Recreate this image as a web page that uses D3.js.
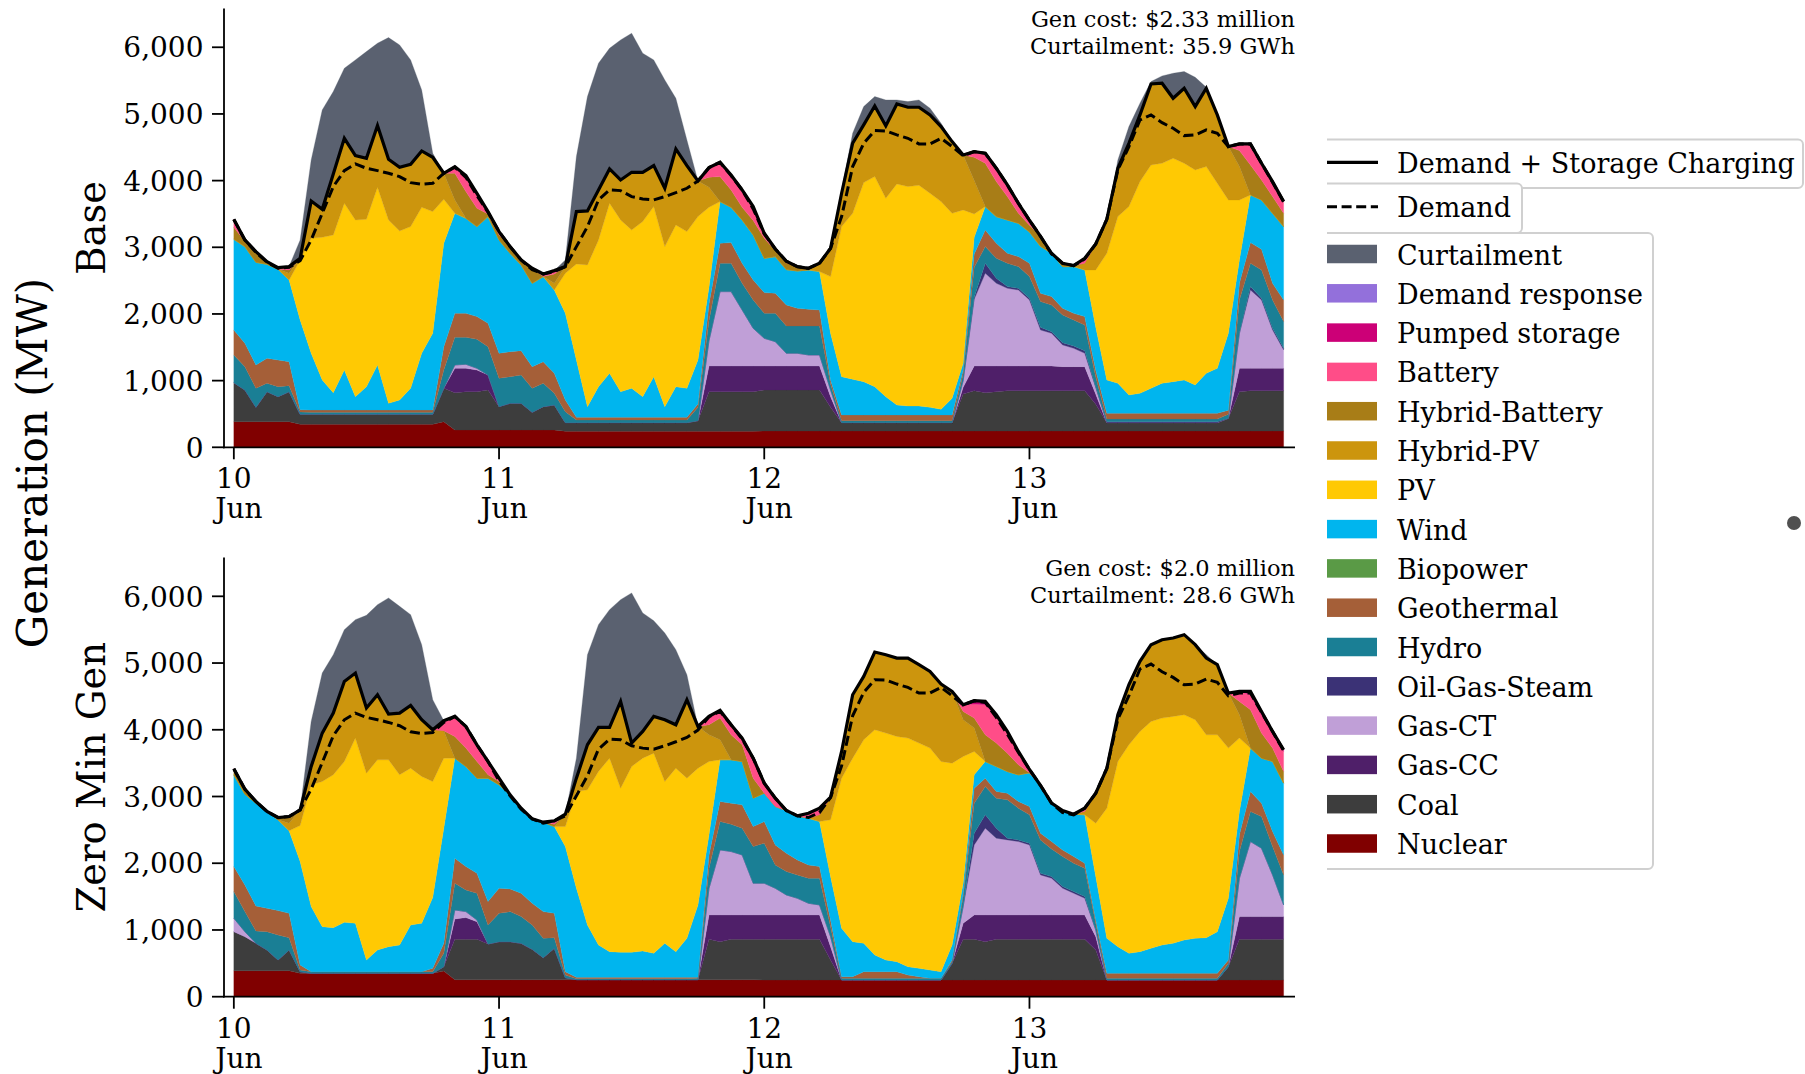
<!DOCTYPE html>
<html>
<head>
<meta charset="utf-8">
<script src="https://cdn.jsdelivr.net/npm/d3@7"></script>
<style>
  body { margin: 0; background: #fff; }
  svg { display: block; }
  text { font-family: "DejaVu Serif", serif; fill: #000; }
</style>
</head>
<body>
<svg id="chart" width="1805" height="1074"></svg>
<script>
// Hourly dispatch, 10 Jun 00:00 to 13 Jun 23:00 (MW)

// ---------- Scenario: Base ----------
const baseNuclear = [385,385,385,385,385,385,345,345,345,345,345,345,345,345,345,345,345,345,345,385,260,260,260,260,260,260,260,260,260,260,240,240,240,240,240,240,240,240,240,240,240,240,240,240,240,240,240,240,245,245,245,245,245,245,245,245,245,245,245,245,245,245,245,245,245,245,245,245,245,245,245,245,245,245,245,245,245,245,245,245,245,245,245,245,245,245,245,245,245,245,245,245,245,245,245,245];
const baseCoal = [585,475,215,450,375,450,150,150,150,150,150,150,150,150,150,150,150,150,150,500,560,575,575,600,350,400,400,265,350,375,130,130,130,130,130,130,130,130,130,130,130,130,160,595,595,595,595,595,615,615,615,615,615,615,355,125,125,125,125,125,125,125,125,125,125,125,555,605,575,590,605,605,605,605,605,605,605,605,400,125,125,125,125,125,125,125,125,125,125,125,190,590,605,605,605,605];
const baseGasCC = [0,0,0,0,0,0,0,0,0,0,0,0,0,0,0,0,0,0,0,0,365,350,325,225,0,0,0,0,0,0,0,0,0,0,0,0,0,0,0,0,0,0,0,385,385,385,385,385,360,360,360,360,360,360,160,0,0,0,0,0,0,0,0,0,0,0,100,370,400,385,370,370,370,370,370,360,360,360,150,0,0,0,0,0,0,0,0,0,0,0,0,350,335,335,335,335];
const baseGasCT = [0,0,0,0,0,0,0,0,0,0,0,0,0,0,0,0,0,0,0,0,50,60,25,0,0,0,0,0,0,0,0,0,0,0,0,0,0,0,0,0,0,0,0,380,1115,1115,840,565,415,365,190,190,165,165,100,0,0,0,0,0,0,0,0,0,0,0,100,1000,1390,1240,1165,1140,990,540,490,325,275,200,100,0,0,0,0,0,0,0,0,0,0,0,0,525,1175,1025,575,275];
const baseOilGasSteam = [0,0,0,0,0,0,0,0,0,0,0,0,0,0,0,0,0,0,0,0,0,0,0,0,0,0,0,0,0,0,0,0,0,0,0,0,0,0,0,0,0,0,0,0,0,0,0,0,0,0,0,0,0,0,0,0,0,0,0,0,0,0,0,0,0,0,0,30,150,75,25,25,25,40,25,35,35,40,10,15,15,15,15,15,15,15,15,15,15,15,0,0,50,25,25,25];
const baseHydro = [415,350,285,125,150,90,35,30,30,30,30,30,30,30,30,30,30,30,30,275,415,405,435,425,425,400,425,360,350,175,165,40,40,40,40,40,40,40,40,40,40,40,200,300,425,425,400,425,375,425,410,410,435,435,90,30,30,30,30,30,30,30,30,30,30,30,100,450,250,300,350,325,325,385,400,415,390,385,150,40,40,40,40,40,40,40,40,40,40,40,60,500,350,425,425,400];
const baseGeothermal = [375,350,350,375,400,360,35,35,35,35,35,35,35,35,35,35,35,35,35,350,360,360,340,350,375,375,365,325,325,300,175,40,40,40,40,40,40,40,40,40,40,40,50,250,300,310,300,300,310,300,315,265,250,240,60,85,85,85,85,85,85,85,85,85,85,85,60,200,250,225,150,150,200,125,125,100,100,125,100,85,85,85,85,85,85,85,85,85,85,85,60,250,310,310,250,325];
const baseWind = [1360,1450,1540,1410,1360,1225,1345,850,450,260,600,200,350,675,100,150,325,850,1150,1550,1500,1425,1350,1600,1700,1475,1285,1250,1275,1250,1300,860,160,460,660,385,435,310,610,160,460,435,660,250,625,530,650,675,515,550,530,560,590,575,700,575,535,500,425,275,150,135,135,115,85,250,100,250,350,400,500,500,470,705,650,625,700,700,645,500,450,275,300,375,450,475,500,425,600,675,1155,350,715,740,1050,1100];
const basePV = [0,0,0,0,0,0,900,1725,2140,2365,2500,2650,2510,2665,2750,2535,2425,2190,1825,660,0,0,0,0,0,0,0,0,0,0,600,1440,2125,2200,2550,2575,2375,2625,2550,2400,2425,2350,2150,1200,0,0,0,0,0,0,0,0,0,0,850,2250,2490,2985,3150,2975,3315,3290,3310,3210,3115,2775,2300,350,0,0,0,0,0,0,0,0,0,0,860,1900,2500,2825,3175,3350,3300,3350,3250,3225,3100,2775,2000,900,0,0,0,0];
const baseHybridPV = [0,0,0,0,0,100,25,560,420,915,975,965,915,925,910,955,935,845,815,390,200,0,0,0,0,0,0,0,0,100,100,785,810,750,515,600,865,740,615,875,1140,990,535,300,0,0,0,0,0,0,0,0,0,125,425,500,1050,865,1060,1085,1200,1190,1170,1175,1125,1075,825,500,0,0,0,0,0,0,0,0,0,100,390,510,725,950,1000,1215,1200,900,1125,950,1175,1025,800,500,0,0,0,0];
const baseHybridBattery = [180,80,160,40,0,50,0,0,0,0,0,0,0,0,0,0,0,0,0,0,400,400,275,40,75,100,75,225,0,140,0,0,0,0,0,0,0,0,0,0,0,0,0,150,375,260,190,215,300,90,100,65,25,0,0,0,0,0,0,0,0,0,0,0,0,0,0,350,650,525,350,150,100,150,0,50,15,0,0,0,0,0,0,0,0,0,0,0,0,0,0,240,450,300,250,200];
const baseBattery = [120,20,0,0,25,50,0,0,0,0,0,0,0,0,0,0,0,0,0,0,100,220,225,35,50,0,0,0,40,50,0,0,0,0,0,0,0,0,0,0,0,0,0,145,215,225,260,210,75,25,25,0,0,0,0,0,0,0,0,0,0,0,0,0,0,0,0,85,150,200,175,150,75,0,0,0,0,75,0,0,0,0,0,0,0,0,0,0,0,0,0,100,315,250,225,175];
const basePumped = [0,0,0,0,0,0,0,0,0,0,0,0,0,0,0,0,0,0,0,0,0,20,0,0,0,0,0,0,0,0,0,0,0,0,0,0,0,0,0,0,0,0,0,0,0,0,0,0,0,0,0,0,0,0,0,0,0,0,0,0,0,0,0,0,0,0,0,0,0,0,0,0,0,0,0,0,0,0,0,0,0,0,0,0,0,0,0,0,0,0,0,0,0,0,0,0];
const baseCurtailment = [0,0,0,0,0,0,275,615,1490,1235,1050,1435,1600,1235,1825,1835,1565,915,60,0,0,0,0,0,0,0,0,0,0,0,100,825,1715,1900,1810,2100,2085,1785,1585,1625,760,385,0,0,0,0,0,0,0,0,0,0,0,0,0,50,150,275,140,390,60,85,110,100,50,0,0,0,0,0,0,0,0,0,0,0,0,0,0,0,125,250,175,35,110,375,250,440,15,0,0,0,0,0,0,0];
const baseDemandPlusCharging = [3420,3110,2935,2785,2695,2710,2835,3695,3570,4100,4635,4375,4335,4825,4320,4200,4245,4445,4350,4110,4210,4075,3810,3535,3235,3010,2810,2685,2600,2650,2710,3535,3545,3860,4175,4010,4125,4125,4225,3885,4475,4225,3995,4195,4275,4085,3860,3610,3210,2975,2790,2710,2685,2760,2985,3810,4560,4835,5120,4820,5150,5100,5100,4985,4810,4585,4385,4435,4410,4185,3935,3660,3405,3165,2910,2760,2725,2835,3050,3420,4185,4560,4985,5450,5460,5235,5385,5110,5385,4985,4510,4550,4550,4260,3985,3685];

// ---------- Scenario: Zero Min Gen ----------
const zmgNuclear = [390,390,390,390,390,390,350,350,350,350,350,350,350,350,350,350,350,350,350,385,255,255,255,255,255,255,255,255,255,255,255,255,255,255,255,255,255,255,255,255,255,255,255,255,255,255,255,255,250,250,250,250,250,250,250,250,250,250,250,250,250,250,250,250,250,250,250,250,250,250,250,250,250,250,250,250,250,250,250,250,250,250,250,250,250,250,250,250,250,250,250,250,250,250,250,250];
const zmgCoal = [585,510,410,310,160,310,25,0,0,0,0,0,0,0,0,0,0,0,0,65,605,605,605,535,570,570,545,455,330,470,30,0,0,0,0,0,0,0,0,0,0,0,0,605,570,605,605,605,610,610,610,610,610,610,300,0,0,0,0,0,0,0,0,0,0,250,610,610,575,610,610,610,610,610,610,610,610,610,450,0,0,0,0,0,0,0,0,0,0,0,200,610,610,610,610,610];
const zmgGasCC = [0,0,0,0,0,0,0,0,0,0,0,0,0,0,0,0,0,0,0,0,305,325,265,0,0,0,0,0,0,0,0,0,0,0,0,0,0,0,0,0,0,0,0,365,400,365,365,365,365,365,365,365,365,365,200,0,0,0,0,0,0,0,0,0,0,0,240,365,400,365,365,365,365,365,365,365,365,365,200,0,0,0,0,0,0,0,0,0,0,0,0,340,340,340,340,340];
const zmgGasCT = [200,75,0,0,0,0,0,0,0,0,0,0,0,0,0,0,0,0,0,0,135,90,25,0,0,0,0,0,0,0,0,0,0,0,0,0,0,0,0,0,0,0,0,400,975,950,900,475,475,400,300,250,175,150,150,0,0,0,0,0,0,0,0,0,0,0,250,1050,1300,1150,1125,1100,1050,600,550,400,325,250,100,0,0,0,0,0,0,0,0,0,0,0,0,575,1125,1025,625,175];
const zmgOilGasSteam = [0,0,0,0,0,0,0,0,0,0,0,0,0,0,0,0,0,0,0,0,0,0,0,0,0,0,0,0,0,0,0,0,0,0,0,0,0,0,0,0,0,0,0,0,0,0,0,0,0,0,0,0,0,0,0,0,0,0,0,0,0,0,0,0,0,0,0,175,200,150,25,25,25,25,25,25,25,25,0,0,0,0,0,0,0,0,0,0,0,0,0,0,0,0,0,0];
const zmgHydro = [400,300,185,275,375,185,25,25,25,25,25,25,25,25,25,25,25,25,25,200,400,325,400,285,425,450,400,365,290,160,40,15,15,15,15,15,15,15,15,15,15,15,20,300,425,410,400,550,600,350,350,350,375,400,150,25,25,25,25,25,25,25,25,25,25,25,150,450,425,450,575,475,425,500,415,450,425,425,100,25,25,25,25,25,25,25,25,25,25,25,50,400,450,475,425,450];
const zmgGeothermal = [375,400,375,350,365,365,75,0,0,0,0,0,0,0,0,0,0,0,50,150,375,350,300,350,375,340,350,325,400,365,50,20,20,20,20,20,20,20,20,20,20,20,15,200,300,315,350,300,325,300,275,225,200,175,100,25,25,100,100,100,100,50,25,0,0,25,50,225,125,100,100,100,125,100,110,100,100,75,50,75,75,75,75,75,75,75,75,75,75,75,50,250,300,200,225,300];
const zmgWind = [1375,1360,1540,1450,1360,1235,1550,975,675,660,740,725,175,325,375,400,700,725,1060,1725,1500,1500,1425,1850,1550,1410,1275,1265,1340,1300,1875,1335,785,485,385,375,375,395,360,510,385,585,1085,300,625,650,650,425,425,575,640,660,700,675,650,725,525,425,250,175,150,125,125,125,100,225,150,200,250,375,325,400,505,715,575,590,635,725,650,525,400,300,325,375,425,450,500,525,535,625,925,350,650,675,1050,1075];
const zmgPV = [0,0,0,0,0,0,540,1825,2175,2290,2410,2775,2800,2850,2800,2550,2350,2200,1740,1050,0,0,0,0,0,0,0,0,0,0,300,1450,2025,2600,2900,2460,2785,2890,3000,2425,2750,2400,2050,1100,0,0,0,0,0,0,0,0,0,0,850,2250,2750,3050,3375,3400,3375,3425,3375,3325,3150,2725,1900,350,0,0,0,0,0,0,0,0,0,0,800,1950,2775,3125,3300,3400,3400,3400,3375,3275,3040,2950,2250,1100,0,0,0,0];
const zmgHybridPV = [0,0,0,0,0,115,235,275,725,925,1200,975,975,975,685,925,940,850,775,410,0,0,0,0,0,0,0,0,0,0,185,200,675,660,460,1300,350,400,550,925,650,1175,625,400,300,0,0,0,0,0,0,0,0,100,340,400,950,950,1165,1175,1175,1200,1175,1150,1160,1075,550,350,0,0,0,0,0,0,0,0,0,50,450,595,700,900,1050,1150,1175,1175,1200,1125,1150,1050,825,350,0,0,0,0];
const zmgHybridBattery = [90,75,25,0,35,100,0,0,0,0,0,0,0,0,0,0,0,0,0,0,325,275,250,50,50,0,0,0,0,35,0,0,0,0,0,0,0,0,0,0,0,0,0,150,325,375,250,300,0,0,0,0,0,0,0,0,0,0,0,0,0,0,0,0,0,0,125,150,400,350,275,150,0,0,0,0,0,0,0,0,0,0,0,0,0,0,0,0,0,0,0,200,575,375,200,175];
const zmgBattery = [0,0,0,0,0,0,0,0,0,0,0,0,0,0,0,0,0,0,0,150,300,325,250,200,50,0,0,0,0,50,0,0,0,0,0,0,0,0,0,0,0,0,0,125,115,150,100,300,150,125,0,0,75,100,0,0,0,0,0,0,0,0,0,0,0,0,100,210,450,400,325,200,50,0,0,0,0,50,0,0,0,0,0,0,0,0,0,0,0,0,0,150,225,275,225,300];
const zmgPumped = [0,0,0,0,0,0,0,0,0,0,0,0,0,0,0,0,0,0,0,0,0,0,0,0,0,0,0,0,0,0,0,0,0,0,0,0,0,0,0,0,0,0,0,0,0,0,0,0,0,0,0,0,0,0,0,0,0,0,0,0,0,0,0,0,0,0,0,50,50,25,0,0,0,0,0,0,0,0,0,0,0,0,0,0,0,0,0,0,0,0,0,0,50,50,25,25];
const zmgCurtailment = [0,0,0,0,0,0,0,675,900,875,775,800,1390,1350,1740,1600,1360,1125,450,0,0,0,0,0,0,0,0,0,0,0,0,300,1350,1540,1765,1525,2250,1775,1435,1300,1125,375,0,0,0,0,0,0,0,0,0,0,0,0,0,0,0,0,0,0,0,0,0,0,0,0,0,0,0,0,0,0,0,0,0,0,0,0,0,0,0,0,0,0,0,0,0,0,50,0,0,0,0,0,0,0];
const zmgDemandPlusCharging = [3415,3110,2925,2775,2685,2700,2800,3450,3950,4250,4725,4850,4325,4525,4235,4250,4365,4150,4000,4135,4200,4050,3775,3525,3275,3025,2825,2665,2615,2635,2735,3275,3775,4035,4035,4425,3800,3975,4200,4150,4075,4450,4050,4200,4290,4075,3875,3575,3200,2975,2790,2710,2750,2825,2990,3675,4525,4800,5165,5125,5075,5075,4975,4875,4685,4575,4375,4435,4425,4225,3975,3675,3405,3165,2900,2790,2735,2825,3050,3420,4225,4675,5025,5275,5350,5375,5425,5275,5075,4975,4550,4575,4575,4275,3975,3700];

// Demand is the same in both scenarios
const demand = [3415,3110,2925,2775,2685,2700,2800,3110,3510,3910,4150,4250,4185,4150,4110,4060,3970,3945,3960,4110,4200,4050,3775,3525,3235,3010,2810,2665,2600,2635,2710,3010,3310,3710,3860,3850,3760,3725,3710,3760,3820,3885,3995,4195,4275,4075,3860,3575,3200,2975,2790,2710,2685,2760,2985,3460,4210,4560,4750,4745,4685,4635,4550,4550,4635,4510,4375,4435,4410,4185,3935,3660,3405,3165,2900,2760,2725,2825,3050,3420,4160,4510,4910,4985,4870,4785,4675,4685,4760,4710,4510,4550,4550,4260,3975,3685];

// Axis labels
const dayTicks = [0, 24, 48, 72];
const dayTickLabels = [["10", "Jun"], ["11", "Jun"], ["12", "Jun"], ["13", "Jun"]];
const yTicks = [0, 1000, 2000, 3000, 4000, 5000, 6000];

// Stack order, bottom to top
const stackKeys = ["Nuclear","Coal","Gas-CC","Gas-CT","Oil-Gas-Steam","Hydro","Geothermal","Wind","PV","Hybrid-PV","Hybrid-Battery","Battery","Pumped storage","Curtailment"];
const legendKeys = ["Curtailment","Demand response","Pumped storage","Battery","Hybrid-Battery","Hybrid-PV","PV","Wind","Biopower","Geothermal","Hydro","Oil-Gas-Steam","Gas-CT","Gas-CC","Coal","Nuclear"];
const techColors = {
  "Curtailment": "#5a6170",
  "Demand response": "#9370db",
  "Pumped storage": "#cc0077",
  "Battery": "#ff4d88",
  "Hybrid-Battery": "#a87d17",
  "Hybrid-PV": "#cc950d",
  "PV": "#ffc903",
  "Wind": "#00b5ee",
  "Biopower": "#5a9a46",
  "Geothermal": "#a55f38",
  "Hydro": "#1a7f95",
  "Oil-Gas-Steam": "#3b3276",
  "Gas-CT": "#c09fd7",
  "Gas-CC": "#4f1f69",
  "Coal": "#3d3d3d",
  "Nuclear": "#800000"
};

const scenarios = [
  {
    label: "Base", top: 8.6, bottom: 447.3,
    note: ["Gen cost: $2.33 million", "Curtailment: 35.9 GWh"],
    series: {
      "Nuclear": baseNuclear, "Coal": baseCoal, "Gas-CC": baseGasCC, "Gas-CT": baseGasCT,
      "Oil-Gas-Steam": baseOilGasSteam, "Hydro": baseHydro, "Geothermal": baseGeothermal,
      "Wind": baseWind, "PV": basePV, "Hybrid-PV": baseHybridPV, "Hybrid-Battery": baseHybridBattery,
      "Battery": baseBattery, "Pumped storage": basePumped, "Curtailment": baseCurtailment
    },
    load: baseDemandPlusCharging
  },
  {
    label: "Zero Min Gen", top: 557.6, bottom: 996.7,
    note: ["Gen cost: $2.0 million", "Curtailment: 28.6 GWh"],
    series: {
      "Nuclear": zmgNuclear, "Coal": zmgCoal, "Gas-CC": zmgGasCC, "Gas-CT": zmgGasCT,
      "Oil-Gas-Steam": zmgOilGasSteam, "Hydro": zmgHydro, "Geothermal": zmgGeothermal,
      "Wind": zmgWind, "PV": zmgPV, "Hybrid-PV": zmgHybridPV, "Hybrid-Battery": zmgHybridBattery,
      "Battery": zmgBattery, "Pumped storage": zmgPumped, "Curtailment": zmgCurtailment
    },
    load: zmgDemandPlusCharging
  }
];

const svg = d3.select("#chart");
const axisLeftX = 224, axisRightX = 1295;
const x = d3.scaleLinear().domain([-0.89, 96.03]).range([axisLeftX, axisRightX]);

scenarios.forEach(sc => {
  const y = d3.scaleLinear().domain([0, 6580]).range([sc.bottom, sc.top]);
  const g = svg.append("g");

  const rows = demand.map((_, i) => {
    const r = { hour: i };
    stackKeys.forEach(k => { r[k] = sc.series[k][i]; });
    return r;
  });
  const stacked = d3.stack().keys(stackKeys)(rows);
  const area = d3.area()
    .x(d => x(d.data.hour))
    .y0(d => y(d[0]))
    .y1(d => y(d[1]));

  g.selectAll("path.layer").data(stacked).join("path")
    .attr("class", "layer")
    .attr("d", area)
    .attr("fill", d => techColors[d.key])
    .attr("stroke", d => techColors[d.key])
    .attr("stroke-width", 0.3);

  const line = d3.line().x((d, i) => x(i)).y(d => y(d));
  g.append("path").attr("d", line(sc.load))
    .attr("fill", "none").attr("stroke", "#000").attr("stroke-width", 3.2)
    .attr("stroke-linejoin", "miter");
  g.append("path").attr("d", line(demand))
    .attr("fill", "none").attr("stroke", "#000").attr("stroke-width", 3)
    .attr("stroke-dasharray", "10,4.6");

  // spines
  g.append("line").attr("x1", axisLeftX).attr("x2", axisLeftX)
    .attr("y1", sc.top).attr("y2", sc.bottom + 0.9)
    .attr("stroke", "#000").attr("stroke-width", 1.8);
  g.append("line").attr("x1", axisLeftX - 0.9).attr("x2", axisRightX)
    .attr("y1", sc.bottom).attr("y2", sc.bottom)
    .attr("stroke", "#000").attr("stroke-width", 1.8);

  // y ticks
  const yt = g.append("g");
  yTicks.forEach(v => {
    yt.append("line").attr("x1", axisLeftX - 12).attr("x2", axisLeftX)
      .attr("y1", y(v)).attr("y2", y(v)).attr("stroke", "#000").attr("stroke-width", 1.8);
    yt.append("text").attr("x", axisLeftX - 20.5).attr("y", y(v) + 10.2)
      .attr("text-anchor", "end").attr("font-size", 28)
      .text(d3.format(",")(v));
  });

  // x ticks
  const xt = g.append("g");
  dayTicks.forEach((h, i) => {
    xt.append("line").attr("x1", x(h)).attr("x2", x(h))
      .attr("y1", sc.bottom).attr("y2", sc.bottom + 12)
      .attr("stroke", "#000").attr("stroke-width", 1.8);
    const t = xt.append("text").attr("text-anchor", "middle").attr("font-size", 28);
    t.append("tspan").attr("x", x(h)).attr("y", sc.bottom + 40.8).text(dayTickLabels[i][0]);
    t.append("tspan").attr("x", x(h) + 5).attr("y", sc.bottom + 70.8).text(dayTickLabels[i][1]);
  });

  // panel label
  const cy = (sc.top + sc.bottom) / 2;
  g.append("text").attr("transform", `translate(105,${cy}) rotate(-90)`)
    .attr("text-anchor", "middle").attr("font-size", 38.5).text(sc.label);

  // cost / curtailment note
  g.append("text").attr("x", axisRightX).attr("y", sc.top + 18.5)
    .attr("text-anchor", "end").attr("font-size", 22.5).text(sc.note[0]);
  g.append("text").attr("x", axisRightX).attr("y", sc.top + 45.5)
    .attr("text-anchor", "end").attr("font-size", 22.5).text(sc.note[1]);
});

// shared y label
svg.append("text").attr("transform", "translate(47,463) rotate(-90)")
  .attr("text-anchor", "middle").attr("font-size", 42).text("Generation (MW)");

// ---------- Legends ----------
svg.append("defs").append("clipPath").attr("id", "legendClip")
  .append("rect").attr("x", 1327).attr("y", 0).attr("width", 480).attr("height", 1074);
const lg = svg.append("g").attr("clip-path", "url(#legendClip)");
const boxStyle = sel => sel.attr("fill", "#fff").attr("stroke", "#d0d0d0").attr("stroke-width", 2).attr("rx", 5);

lg.append("rect").attr("x", 1305).attr("y", 139.5).attr("width", 1803 - 1305).attr("height", 48.5).call(boxStyle);
lg.append("line").attr("x1", 1327).attr("x2", 1378).attr("y1", 162.4).attr("y2", 162.4)
  .attr("stroke", "#000").attr("stroke-width", 3.2);
lg.append("text").attr("x", 1397).attr("y", 172.8).attr("font-size", 27).text("Demand + Storage Charging");

lg.append("rect").attr("x", 1305).attr("y", 183.4).attr("width", 1522 - 1305).attr("height", 49.6).call(boxStyle);
lg.append("line").attr("x1", 1327).attr("x2", 1378).attr("y1", 206.8).attr("y2", 206.8)
  .attr("stroke", "#000").attr("stroke-width", 3).attr("stroke-dasharray", "10,4.6");
lg.append("text").attr("x", 1397).attr("y", 217.2).attr("font-size", 27).text("Demand");

lg.append("rect").attr("x", 1305).attr("y", 233).attr("width", 1653 - 1305).attr("height", 636).call(boxStyle);
legendKeys.forEach((k, i) => {
  const cy = 254 + i * 39.3;
  lg.append("rect").attr("x", 1327).attr("y", cy - 9.25).attr("width", 50).attr("height", 18.5)
    .attr("fill", techColors[k]);
  lg.append("text").attr("x", 1397).attr("y", cy + 10.5).attr("font-size", 27).text(k);
});

svg.append("circle").attr("cx", 1794).attr("cy", 523).attr("r", 7).attr("fill", "#505050");
</script>
</body>
</html>
